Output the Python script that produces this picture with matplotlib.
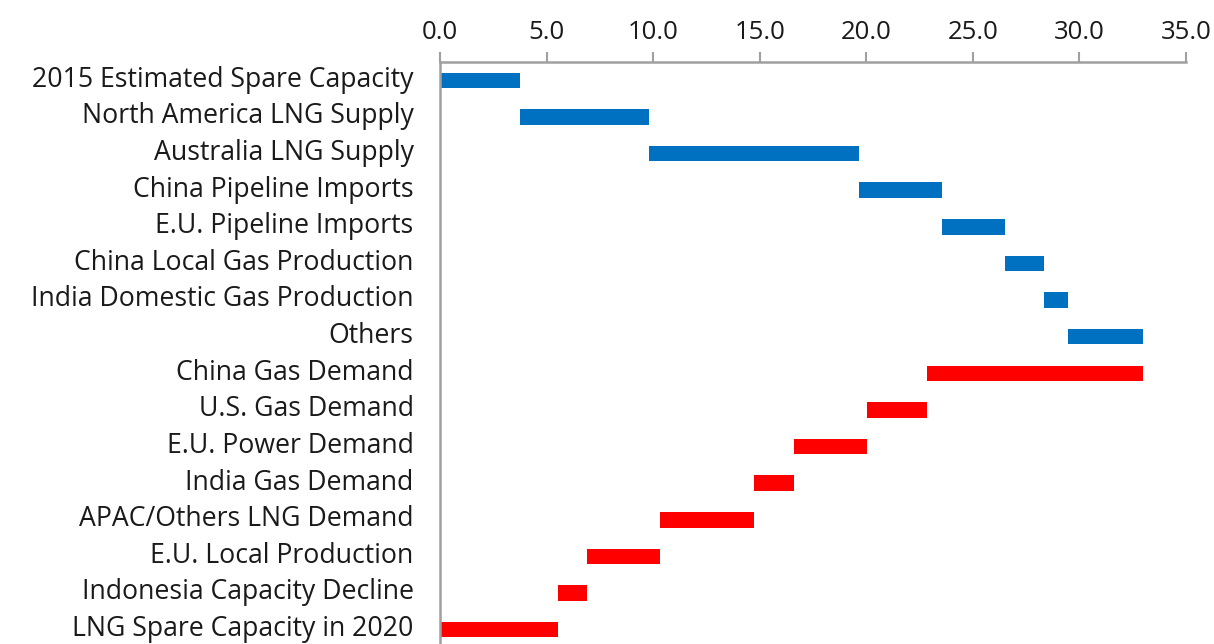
import numpy as np
import matplotlib
matplotlib.use("Agg")
import matplotlib.pyplot as plt
import matplotlib.transforms as mtransforms

# supply side (blue) then demand side (red)
supply_labels = ["2015 Estimated Spare Capacity", "North America LNG Supply",
                 "Australia LNG Supply", "China Pipeline Imports",
                 "E.U. Pipeline Imports", "China Local Gas Production",
                 "India Domestic Gas Production", "Others"]
supply_values = [3.74, 6.05, 9.85, 3.90, 2.95, 1.83, 1.13, 3.55]

demand_labels = ["China Gas Demand", "U.S. Gas Demand", "E.U. Power Demand",
                 "India Gas Demand", "APAC/Others LNG Demand",
                 "E.U. Local Production", "Indonesia Capacity Decline",
                 "LNG Spare Capacity in 2020"]
demand_values = [10.17, 2.81, 3.43, 1.88, 4.41, 3.42, 1.36, 5.52]

xticks = [0, 5, 10, 15, 20, 25, 30, 35]

# waterfall: supply stacks up, demand eats it back down
supply_left = np.concatenate([[0], np.cumsum(supply_values)[:-1]])
total = np.sum(supply_values)
demand_left = total - np.cumsum(demand_values)

labels = supply_labels + demand_labels
lefts = np.concatenate([supply_left, demand_left])
widths = supply_values + demand_values
colors = ["#0070C0"] * len(supply_values) + ["#FF0000"] * len(demand_values)

plt.rcParams["font.family"] = ["Open Sans", "DejaVu Sans"]

fig = plt.figure(figsize=(12.14, 6.44), dpi=100)
ax = fig.add_axes([440 / 1214, 1 - 648 / 644, (1186 - 440) / 1214, (648 - 62) / 644])

y = np.arange(len(labels))
ax.barh(y, widths, left=lefts, height=0.42, color=colors)

ax.set_xlim(0, 35)
ax.set_ylim(len(labels) - 0.5, -0.5)
ax.set_yticks(y)
ax.set_yticklabels(labels, fontsize=19.2, color="#1a1a1a")
ax.set_xticks(xticks)
ax.set_xticklabels(["%.1f" % t for t in xticks], fontsize=18.5, color="#1a1a1a")

ax.xaxis.tick_top()
ax.tick_params(axis="x", direction="out", length=7, width=1.5, color="#a0a0a0", pad=5)
ax.tick_params(axis="y", length=0, pad=19)

# nudge the category labels up a touch so the last one is not clipped
shift = mtransforms.ScaledTranslation(0, 3 / 72, fig.dpi_scale_trans)
for lab in ax.get_yticklabels():
    lab.set_transform(lab.get_transform() + shift)

for s in ["right", "bottom"]:
    ax.spines[s].set_visible(False)
for s in ["left", "top"]:
    ax.spines[s].set_color("#a0a0a0")
    ax.spines[s].set_linewidth(1.8)

fig.savefig("out.png", dpi=100)
